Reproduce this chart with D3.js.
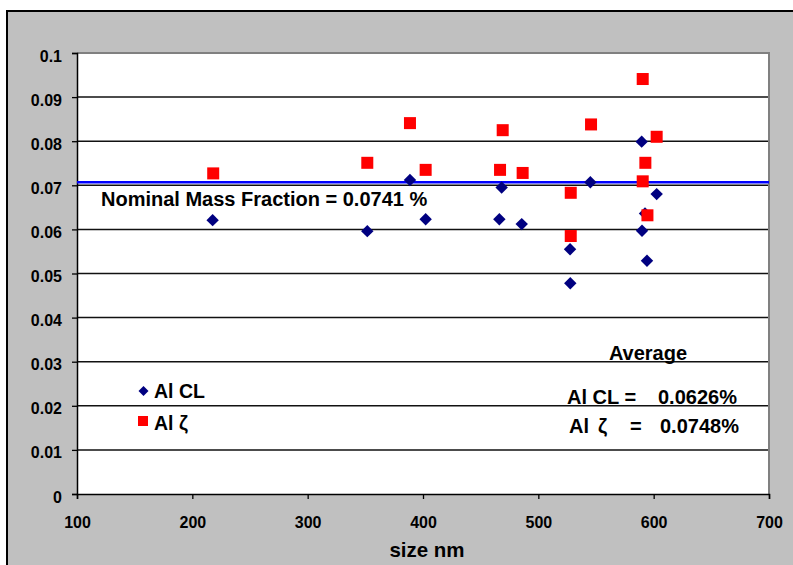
<!DOCTYPE html>
<html>
<head>
<meta charset="utf-8">
<script src="https://cdn.jsdelivr.net/npm/d3@7"></script>
<style>
  html, body { margin: 0; padding: 0; background: #ffffff; }
  svg { display: block; }
  text { font-family: "Liberation Sans", Arial, sans-serif; font-weight: bold; fill: #000; }
</style>
</head>
<body>
<svg id="chart" width="793" height="565"></svg>
<script>
// ---- data ----
const sizeCL = [217.6, 351.7, 388.7, 402.3, 466.2, 468.2, 485.6, 527.5, 527.7, 545.1, 589.6, 589.9, 592.5, 594.2, 602.6];
const valCL  = [0.0621, 0.0596, 0.0712, 0.0623, 0.0623, 0.0695, 0.0612, 0.0555, 0.0478, 0.0707, 0.0799, 0.0597, 0.0636, 0.0529, 0.0680];

const sizeZeta = [218.1, 351.7, 388.7, 402.3, 466.8, 469.1, 486.4, 528.1, 528.1, 545.7, 590.5, 590.5, 592.8, 594.6, 602.6];
const valZeta  = [0.0727, 0.0751, 0.0841, 0.0735, 0.0735, 0.0825, 0.0728, 0.0683, 0.0585, 0.0838, 0.0941, 0.0709, 0.0751, 0.0632, 0.0810];

const nominalLine = 0.0707;
const xTicks = [100, 200, 300, 400, 500, 600, 700];
const yTicks = [0, 0.01, 0.02, 0.03, 0.04, 0.05, 0.06, 0.07, 0.08, 0.09, 0.1];
const yTickLabels = ["0", "0.01", "0.02", "0.03", "0.04", "0.05", "0.06", "0.07", "0.08", "0.09", "0.1"];
const seriesNames = ["Al CL", "Al \u03B6"];
const nominalLabel = "Nominal Mass Fraction = 0.0741 %";
const xTitle = "size nm";

// ---- layout ----
const svg = d3.select("#chart");
const L = 77, R = 769, T = 53, B = 494;
const x = d3.scaleLinear().domain([100, 700]).range([L, R]);
const y = d3.scaleLinear().domain([0, 0.1]).range([B, T]);

// outer frame
svg.append("rect").attr("x", 7).attr("y", 11).attr("width", 800).attr("height", 600)
  .attr("fill", "#c0c0c0").attr("stroke", "#000").attr("stroke-width", 2);

// plot area
svg.append("rect").attr("x", L).attr("y", T).attr("width", R - L).attr("height", B - T)
  .attr("fill", "#ffffff");

// gridlines
svg.append("g").selectAll("line").data(yTicks.filter(d => d > 0 && d < 0.1)).join("line")
  .attr("x1", L).attr("x2", R).attr("y1", d => y(d)).attr("y2", d => y(d))
  .attr("stroke", "#111").attr("stroke-width", 1.5);

// top & right border (gray)
svg.append("path")
  .attr("d", `M${L},${T}H${R}V${B}`)
  .attr("fill", "none").attr("stroke", "#808080").attr("stroke-width", 2);

// axes
const yAxis = d3.axisLeft(y).tickValues(yTicks).tickSize(5).tickFormat((d, i) => yTickLabels[i]);
const gy = svg.append("g").attr("transform", `translate(${L},0)`).call(yAxis);
gy.select(".domain").attr("stroke", "#000").attr("stroke-width", 1.5);
gy.selectAll(".tick line").attr("stroke", "#000").attr("stroke-width", 1.3);
gy.selectAll(".tick text").attr("x", -15).attr("dy", null).attr("y", 8)
  .style("font-size", "16px").style("font-family", "'Liberation Sans', Arial, sans-serif")
  .style("font-weight", "bold").attr("fill", "#000");

const xAxis = d3.axisBottom(x).tickValues(xTicks).tickSize(5).tickFormat(d3.format("d"));
const gx = svg.append("g").attr("transform", `translate(0,${B})`).call(xAxis);
gx.select(".domain").attr("stroke", "#000").attr("stroke-width", 1.5);
gx.selectAll(".tick line").attr("stroke", "#000").attr("stroke-width", 1.3);
gx.selectAll(".tick text").attr("y", 34).attr("dy", null)
  .style("font-size", "16px").style("font-family", "'Liberation Sans', Arial, sans-serif")
  .style("font-weight", "bold").attr("fill", "#000");

// x title
svg.append("text").attr("x", (L + R) / 2 + 4).attr("y", 557).attr("text-anchor", "middle")
  .style("font-size", "20.5px").text(xTitle);

// nominal line
svg.append("line").attr("x1", L).attr("x2", R).attr("y1", y(nominalLine)).attr("y2", y(nominalLine))
  .attr("stroke", "#0000ff").attr("stroke-width", 2.5);
svg.append("text").attr("x", 101).attr("y", 206).style("font-size", "20px").text(nominalLabel);

// series
const diamond = (cx, cy, r) => `M${cx},${cy - r}L${cx + r},${cy}L${cx},${cy + r}L${cx - r},${cy}Z`;
const cl = sizeCL.map((s, i) => ({ s, v: valCL[i] }));
const ze = sizeZeta.map((s, i) => ({ s, v: valZeta[i] }));

svg.append("g").selectAll("path").data(cl).join("path")
  .attr("d", d => diamond(x(d.s), y(d.v), 6.2))
  .attr("fill", "#000080");

svg.append("g").selectAll("rect").data(ze).join("rect")
  .attr("x", d => x(d.s) - 6).attr("y", d => y(d.v) - 6)
  .attr("width", 12).attr("height", 12)
  .attr("fill", "#ff0000");

// legend
svg.append("path").attr("d", diamond(143.5, 391, 5)).attr("fill", "#000080");
svg.append("text").attr("x", 154).attr("y", 398).style("font-size", "19.5px").text(seriesNames[0]);
svg.append("rect").attr("x", 138).attr("y", 416).attr("width", 10).attr("height", 10).attr("fill", "#ff0000");
svg.append("text").attr("x", 154).attr("y", 430).style("font-size", "19.5px").text(seriesNames[1]);

// average block
svg.append("text").attr("x", 648).attr("y", 360).attr("text-anchor", "middle")
  .style("font-size", "20px").text("Average");
svg.append("text").attr("x", 567).attr("y", 404).style("font-size", "20px").text("Al CL =");
svg.append("text").attr("x", 658).attr("y", 404).style("font-size", "20px").text("0.0626%");
svg.append("text").attr("x", 569).attr("y", 433).style("font-size", "20px").text("Al");
svg.append("text").attr("x", 598).attr("y", 433).style("font-size", "20px").text("\u03B6");
svg.append("text").attr("x", 630).attr("y", 433).style("font-size", "20px").text("=");
svg.append("text").attr("x", 660).attr("y", 433).style("font-size", "20px").text("0.0748%");
</script>
</body>
</html>
